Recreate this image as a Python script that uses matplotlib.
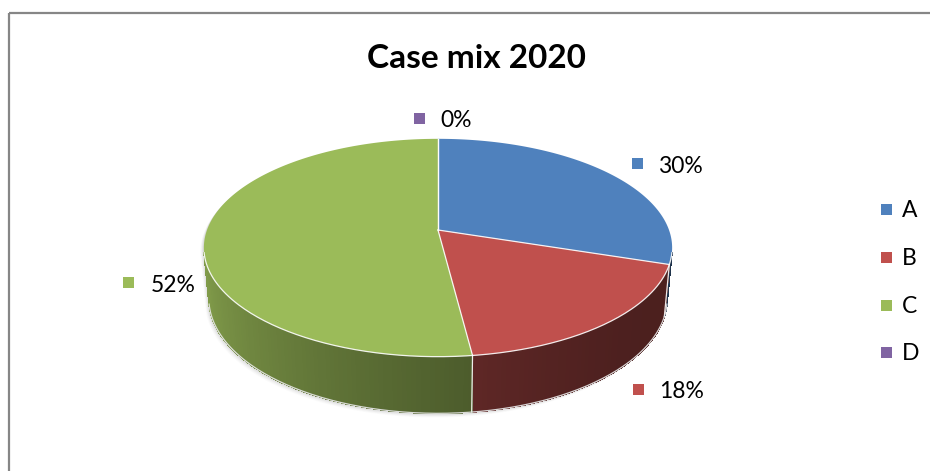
import numpy as np
import matplotlib
matplotlib.use("Agg")
import matplotlib.pyplot as plt
from matplotlib.patches import Polygon, Rectangle

# ---------------- data ----------------
categories = ["A", "B", "C", "D"]
values = [30, 18, 52, 0]
colors = ["#4F81BD", "#C0504D", "#9BBB59", "#8064A2"]
title = "Case mix 2020"

# ---------------- layout ----------------
W, H_px = 930, 471
fig = plt.figure(figsize=(W / 100, H_px / 100), dpi=100)
ax = fig.add_axes([0, 0, 1, 1])
ax.set_xlim(0, W)
ax.set_ylim(H_px, 0)
ax.axis("off")

# chart border (only top and left visible in the crop)
ax.plot([8.5, W], [13, 13], color="#868686", lw=1.6, solid_capstyle="butt")
ax.plot([8.5, 8.5], [13, H_px], color="#868686", lw=1.6, solid_capstyle="butt")

# 3-D projection parameters
cx, cy, scale = 438, 230, 231
sin_e, cos_e = 0.459, 0.888
Dist = 5.45
depth = 0.25


def proj(t_deg, h):
    t = np.radians(t_deg)
    x, d = np.sin(t), np.cos(t)
    v = d * sin_e + h * cos_e
    w = d * cos_e - h * sin_e
    f = Dist / (Dist + w)
    return cx + scale * x * f, cy - scale * v * f


# visible side range: cos t < -1/(D cos e)
tv = np.degrees(np.arccos(-1 / (Dist * cos_e)))
tv0, tv1 = tv, 360 - tv

total = sum(values)
bounds = np.concatenate([[0], np.cumsum(values) / total * 360])

# soft shadow
top_t = np.linspace(tv1, tv0 + 360, 200)
bot_t = np.linspace(tv0, tv1, 200)
sx, sy = proj(top_t, 0)
bx, by = proj(bot_t, -depth)
outline = np.column_stack([np.concatenate([sx, bx]), np.concatenate([sy, by])])
for k, a in zip(range(6, 0, -1), [0.03, 0.04, 0.05, 0.06, 0.07, 0.08]):
    ax.add_patch(Polygon(outline + np.array([-k * 0.6, k * 0.7]), closed=True,
                         facecolor="#808080", edgecolor="none", alpha=a))


def shade(col, t):
    rgb = np.array(matplotlib.colors.to_rgb(col))
    f = 0.644 + 0.25 * np.cos(np.radians(t - 300))
    return np.clip(rgb * f, 0, 1)


# side walls (opaque base first, then shaded strips)
for i, col in enumerate(colors):
    a0, a1 = bounds[i], bounds[i + 1]
    lo, hi = max(a0, tv0), min(a1, tv1)
    if hi <= lo:
        continue
    ts = np.linspace(lo, hi, 200)
    tx, ty = proj(ts, 0)
    ux, uy = proj(ts[::-1], -depth)
    base = shade(col, (lo + hi) / 2)
    ax.add_patch(Polygon(np.column_stack([np.concatenate([tx, ux]),
                                          np.concatenate([ty, uy])]),
                         closed=True, facecolor=base, edgecolor="none"))
    n = max(2, int(hi - lo))
    ts = np.linspace(lo, hi, n + 1)
    for j in range(n):
        t0, t1 = ts[j], ts[j + 1]
        x0, y0 = proj(t0, 0)
        x1, y1 = proj(t1, 0)
        x2, y2 = proj(t1, -depth)
        x3, y3 = proj(t0, -depth)
        c = shade(col, (t0 + t1) / 2)
        ax.add_patch(Polygon([[x0, y0], [x1, y1], [x2, y2], [x3, y3]],
                             closed=True, facecolor=c, edgecolor=c, lw=0.5,
                             joinstyle="round", antialiased=False))

# top faces
for i, col in enumerate(colors):
    a0, a1 = bounds[i], bounds[i + 1]
    if a1 <= a0:
        continue
    ts = np.linspace(a0, a1, max(3, int((a1 - a0) * 2)))
    px, py = proj(ts, 0)
    pts = np.column_stack([np.concatenate([[cx], px]), np.concatenate([[cy], py])])
    ax.add_patch(Polygon(pts, closed=True, facecolor=col, edgecolor="none"))

# white edges
for b in bounds[:-1]:
    x1, y1 = proj(b, 0)
    ax.plot([cx, x1], [cy, y1], color="white", lw=0.9, alpha=0.9)
    if tv0 < b < tv1:
        x2, y2 = proj(b, -depth)
        ax.plot([x1, x2], [y1, y2], color="white", lw=0.9, alpha=0.9)
rt = np.linspace(tv0, tv1, 200)
rx, ry = proj(rt, 0)
ax.plot(rx, ry, color="white", lw=0.9, alpha=0.9)
bx, by = proj(rt, -depth)
ax.plot(bx, by, color="#e8e8e8", lw=0.9, alpha=0.9)

# title
ax.text(476, 68, title, ha="center", va="baseline", fontsize=24,
        fontweight="bold", family="Lato", color="black")

# data labels (marker square + percentage)
label_pos = [(658, 173), (659, 398), (151, 292), (440, 127)]
marker_pos = [(637, 163), (638, 389), (128, 282), (419, 118)]
for i, v in enumerate(values):
    pct = f"{round(v / total * 100)}%"
    mx, my = marker_pos[i]
    ax.add_patch(Rectangle((mx - 5.5, my - 5.5), 11, 11, facecolor=colors[i],
                           edgecolor="none"))
    lx, ly = label_pos[i]
    ax.text(lx, ly, pct, ha="left", va="baseline", fontsize=16.5,
            family="Lato", color="black")

# legend
leg_y = [217, 265, 313, 360]
for i, cat in enumerate(categories):
    ax.add_patch(Rectangle((881, leg_y[i] - 13), 11, 11, facecolor=colors[i],
                           edgecolor="none"))
    ax.text(902, leg_y[i], cat, ha="left", va="baseline", fontsize=16.5,
            family="Lato", color="black")

fig.savefig("out.png", dpi=100)
